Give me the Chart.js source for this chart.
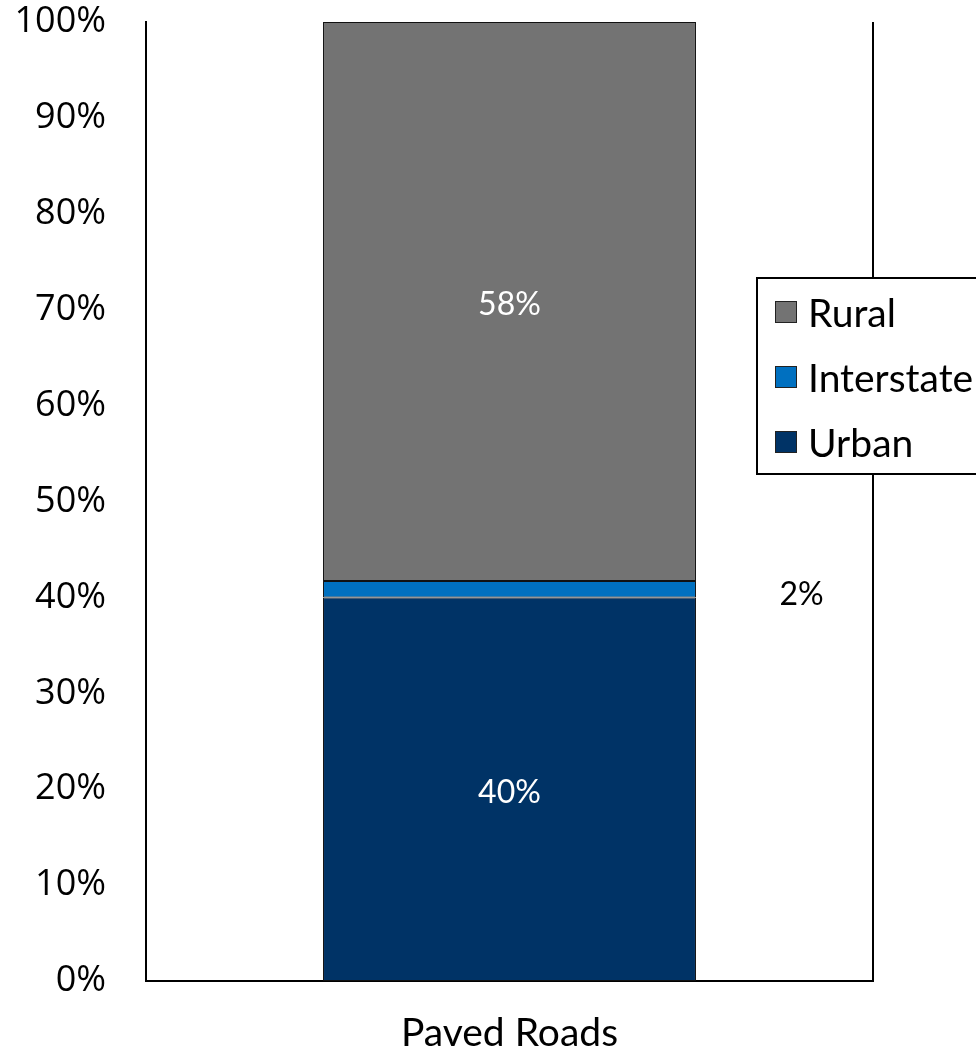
<!DOCTYPE html>
<html>
<head>
<meta charset="utf-8">
<script src="https://cdn.jsdelivr.net/npm/chart.js@4.4.0/dist/chart.umd.min.js"></script>
<style>
  html, body { margin: 0; padding: 0; background: #fff; }
  #wrap { width: 976px; height: 1053px; }
</style>
</head>
<body>
<div id="wrap"><canvas id="chart"></canvas></div>
<script>
const categories = ["Paved Roads"];
const urban = [40];
const interstate = [1.7];
const rural = [58.3];
const seriesNames = ["Urban", "Interstate", "Rural"];
const seriesColors = ["#003366", "#0070C0", "#737373"];

// right plot border
const frameLine = {
    id: 'frameLine',
    afterDraw(chart) {
        const ctx = chart.ctx, a = chart.chartArea;
        ctx.save();
        ctx.strokeStyle = '#000';
        ctx.lineWidth = 2;
        ctx.beginPath();
        ctx.moveTo(a.right, a.top);
        ctx.lineTo(a.right, a.bottom);
        ctx.stroke();
        ctx.restore();
    }
};

// value labels on segments
const segLabels = {
    id: 'segLabels',
    afterDatasetsDraw(chart) {
        const ctx = chart.ctx;
        ctx.save();
        ctx.font = '32px Lato';
        ctx.textAlign = 'center';
        ctx.textBaseline = 'middle';
        chart.data.datasets.forEach((ds, i) => {
            const meta = chart.getDatasetMeta(i);
            meta.data.forEach((bar, j) => {
                const txt = Math.round(ds.data[j]) + '%';
                const yc = (bar.y + bar.base) / 2 + 3;
                if (ds.label === 'Interstate') {
                    ctx.fillStyle = '#000';
                    ctx.fillText(txt, bar.x + 292, yc + 2);
                } else {
                    ctx.fillStyle = '#fff';
                    ctx.fillText(txt, bar.x, yc);
                }
            });
        });
        ctx.restore();
    }
};

// legend box drawn over the plot
const boxLegend = {
    id: 'boxLegend',
    afterDraw(chart) {
        const ctx = chart.ctx;
        const x = 757, y = 278, w = 230, h = 196;
        ctx.save();
        ctx.fillStyle = '#fff';
        ctx.fillRect(x, y, w, h);
        ctx.strokeStyle = '#000';
        ctx.lineWidth = 2;
        ctx.strokeRect(x, y, w, h);
        ctx.font = '39px Lato';
        ctx.textBaseline = 'middle';
        const order = [2, 1, 0];
        order.forEach((di, k) => {
            const ds = chart.data.datasets[di];
            const cy = 312 + k * 65;
            ctx.fillStyle = ds.backgroundColor;
            ctx.fillRect(775, cy - 11, 22, 22);
            ctx.lineWidth = 1;
            ctx.strokeStyle = '#222';
            ctx.strokeRect(775.5, cy - 10.5, 21, 21);
            ctx.fillStyle = '#000';
            ctx.fillText(ds.label, 808, cy + 2);
        });
        ctx.restore();
    }
};

const values = [urban, interstate, rural];
const datasets = seriesNames.map((name, i) => ({
    label: name,
    data: values[i],
    backgroundColor: seriesColors[i],
    borderColor: '#111',
    borderWidth: 1,
    borderSkipped: false,
    barPercentage: 0.513,
    categoryPercentage: 1.0
}));

let ctx = document.getElementById('chart').getContext('2d');
const chart = new Chart(ctx, {
    type: 'bar',
    data: { labels: categories, datasets: datasets },
    options: {
        responsive: true,
        maintainAspectRatio: false,
        animation: false,
        layout: { padding: { top: 22, right: 103, left: 0, bottom: 0 } },
        plugins: {
            legend: { display: false },
            tooltip: { enabled: false }
        },
        scales: {
            x: {
                stacked: true,
                grid: { display: false, drawTicks: false },
                border: { display: true, color: '#000', width: 2 },
                ticks: {
                    color: '#000',
                    padding: 29,
                    font: { size: 39, family: 'Lato' }
                },
                afterFit: s => { s.height = 72; s.paddingLeft = 0; s.paddingRight = 0; }
            },
            y: {
                stacked: true,
                min: 0,
                max: 100,
                grid: { display: false, drawTicks: false },
                border: { display: true, color: '#000', width: 2 },
                ticks: {
                    color: '#000',
                    stepSize: 10,
                    padding: 40,
                    font: { size: 36, family: 'Open Sans' },
                    callback: v => v + '%'
                },
                afterFit: s => { s.width = 146; s.paddingTop = 0; s.paddingBottom = 0; }
            }
        }
    },
    plugins: [frameLine, segLabels, boxLegend]
});
</script>
</body>
</html>
